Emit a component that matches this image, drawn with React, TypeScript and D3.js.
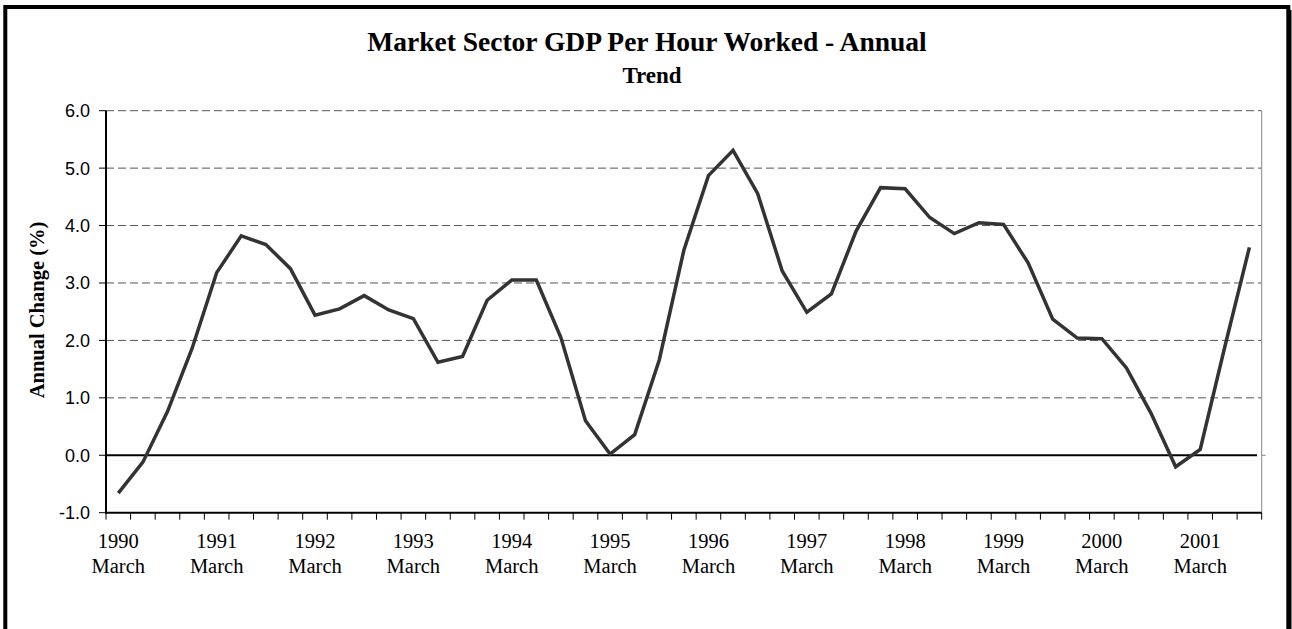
import React from "react";
import * as d3 from "d3";

const quarters = ["March", "June", "September", "December"];
const startYear = 1990;
const values = [
  -0.66, -0.12, 0.76, 1.86, 3.18, 3.82, 3.67, 3.25, 2.44, 2.55, 2.78, 2.53,
  2.38, 1.62, 1.72, 2.7, 3.05, 3.05, 2.05, 0.6, 0.02, 0.36, 1.66, 3.57, 4.87,
  5.31, 4.56, 3.21, 2.49, 2.81, 3.9, 4.66, 4.64, 4.14, 3.86, 4.05, 4.02, 3.35,
  2.37, 2.04, 2.03, 1.52, 0.73, -0.2, 0.1, 1.89, 3.62,
];
const categories = values.map(
  (_, i) => `${startYear + Math.floor(i / 4)} ${quarters[i % 4]}`
);
const yTicks = [-1, 0, 1, 2, 3, 4, 5, 6];
const title = "Market Sector GDP Per Hour Worked - Annual";
const subtitle = "Trend";
const yLabel = "Annual Change (%)";

const W = 1292;
const H = 629;
const left = 106;
const right = 1261.7;
const top = 110.7;
const bottom = 512.7;

export default function App() {
  const x = d3.scaleBand<string>().domain(categories).range([left, right]).padding(0);
  const y = d3.scaleLinear().domain([-1, 6]).range([bottom, top]);
  const line = d3
    .line<number>()
    .x((_, i) => (x(categories[i]) as number) + x.bandwidth() / 2)
    .y((d) => y(d));
  const serif = "'Liberation Serif', 'Times New Roman', serif";
  const sans = "'Liberation Sans', Arial, sans-serif";
  const boundaries = d3.range(categories.length + 1).map((i) => left + i * x.bandwidth());
  return (
    <svg
      width={W}
      height={H}
      style={{ position: "fixed", left: 0, top: 0, display: "block", background: "#fff" }}
    >
      <rect x={0} y={0} width={W} height={H} fill="#fff" />
      {/* frame */}
      <rect x={5.3} y={7} width={1283} height={700} fill="none" stroke="#000" strokeWidth={4} />
      <line x1={1290} x2={1290} y1={10} y2={H} stroke="#000" strokeWidth={3} />
      {/* titles */}
      <text x={647} y={51} textAnchor="middle" fontFamily={serif} fontWeight="bold" fontSize={27.5}>
        {title}
      </text>
      <text x={652} y={83} textAnchor="middle" fontFamily={serif} fontWeight="bold" fontSize={23}>
        {subtitle}
      </text>
      {/* grid */}
      {yTicks
        .filter((t) => t > 0)
        .map((t) => (
          <line
            key={"g" + t}
            x1={left}
            x2={right}
            y1={y(t)}
            y2={y(t)}
            stroke="#555"
            strokeWidth={1}
            strokeDasharray="8,4"
          />
        ))}
      {/* right border of plot */}
      <line x1={right} x2={right} y1={top} y2={bottom} stroke="#888" strokeWidth={1} />
      <line x1={right} x2={right + 4} y1={y(0)} y2={y(0)} stroke="#888" strokeWidth={1} />
      {/* zero line */}
      <line x1={left} x2={1257} y1={y(0)} y2={y(0)} stroke="#000" strokeWidth={2} />
      {/* y axis */}
      <line x1={left} x2={left} y1={top} y2={bottom + 1} stroke="#000" strokeWidth={2} />
      {yTicks.map((t) => (
        <g key={"y" + t}>
          <line x1={left - 7} x2={left} y1={y(t)} y2={y(t)} stroke="#000" strokeWidth={1} />
          <text
            x={90}
            y={y(t)}
            dy="0.36em"
            textAnchor="end"
            fontFamily={sans}
            fontSize={18}
            fill="#000"
          >
            {t.toFixed(1)}
          </text>
        </g>
      ))}
      {/* x axis */}
      <line x1={left - 1} x2={right} y1={bottom} y2={bottom} stroke="#000" strokeWidth={2} />
      {boundaries.map((bx, i) => (
        <line key={"t" + i} x1={bx} x2={bx} y1={bottom} y2={bottom + 7} stroke="#000" strokeWidth={1} />
      ))}
      {categories.map((c, i) =>
        i % 4 === 0 ? (
          <text
            key={"xl" + i}
            x={(x(c) as number) + x.bandwidth() / 2}
            textAnchor="middle"
            fontFamily={serif}
            fontSize={20.5}
            fill="#000"
          >
            <tspan x={(x(c) as number) + x.bandwidth() / 2} y={548}>
              {c.split(" ")[0]}
            </tspan>
            <tspan x={(x(c) as number) + x.bandwidth() / 2} y={572.5}>
              {c.split(" ")[1]}
            </tspan>
          </text>
        ) : null
      )}
      {/* y label */}
      <text
        transform={`translate(44, 310) rotate(-90)`}
        textAnchor="middle"
        fontFamily={serif}
        fontWeight="bold"
        fontSize={20.5}
      >
        {yLabel}
      </text>
      {/* data line */}
      <path d={line(values) || ""} fill="none" stroke="#333" strokeWidth={3.5} strokeLinejoin="miter" />
    </svg>
  );
}
